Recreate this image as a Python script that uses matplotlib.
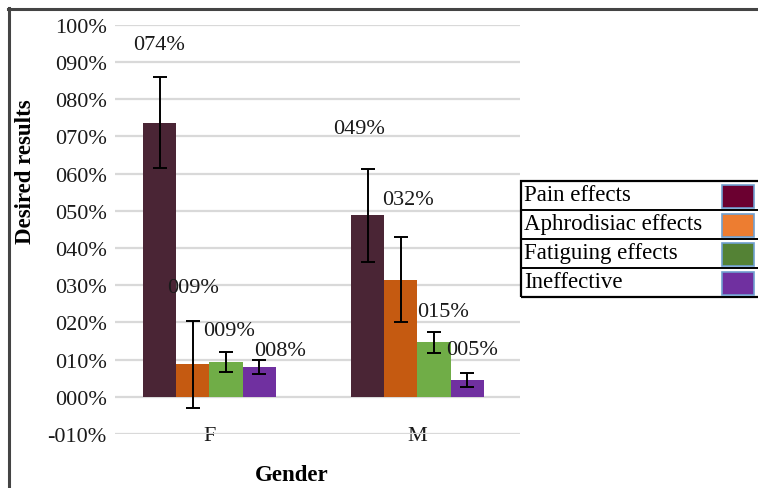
import matplotlib
matplotlib.use("Agg")
import matplotlib.pyplot as plt
from matplotlib.patches import Rectangle
from matplotlib.lines import Line2D
import numpy as np

# ---- data ----
categories = ["F", "M"]
series = ["Pain effects", "Aphrodisiac effects", "Fatiguing effects", "Ineffective"]
values = {
    "Pain effects":        [0.737, 0.488],
    "Aphrodisiac effects": [0.087, 0.315],
    "Fatiguing effects":   [0.093, 0.146],
    "Ineffective":         [0.081, 0.046],
}
errors = {
    "Pain effects":        [0.122, 0.125],
    "Aphrodisiac effects": [0.116, 0.115],
    "Fatiguing effects":   [0.027, 0.028],
    "Ineffective":         [0.019, 0.019],
}
yticks = [-0.1, 0.0, 0.1, 0.2, 0.3, 0.4, 0.5, 0.6, 0.7, 0.8, 0.9, 1.0]

# ---- style / layout ----
bar_colors = ["#4A2535", "#C55A11", "#70AD47", "#7030A0"]
legend_colors = ["#6B0030", "#ED7D31", "#548235", "#7030A0"]
# label placement (x offset in px, y in data units) -- layout only
label_dx = {"Pain effects": [0, -8], "Aphrodisiac effects": [0, 7],
            "Fatiguing effects": [3, 9], "Ineffective": [21, 5]}
label_y = {"Pain effects": [0.947, 0.720], "Aphrodisiac effects": [0.294, 0.530],
           "Fatiguing effects": [0.178, 0.230], "Ineffective": [0.125, 0.127]}

W, H = 758, 489
plt.rcParams["font.family"] = ["Liberation Serif", "DejaVu Serif"]
fig = plt.figure(figsize=(W / 100, H / 100), dpi=100)
ax = fig.add_axes([115 / W, 1 - 435 / H, (520 - 115) / W, (435 - 25.7) / H])

x = np.arange(len(categories))
bw = 0.16
n = len(series)
txt_color = "#1a1a1a"
fs = 16
for i, s in enumerate(series):
    xs = x + (i - (n - 1) / 2) * bw
    ax.bar(xs, values[s], width=bw, color=bar_colors[i], zorder=2)
    ax.errorbar(xs, values[s], yerr=errors[s], fmt="none", ecolor="black",
                elinewidth=1.4, capsize=5, capthick=1.4, zorder=3)
    for j, v in enumerate(values[s]):
        lbl = f"{int(round(v * 100)):03d}%"
        ax.annotate(lbl, (xs[j], label_y[s][j]), xytext=(label_dx[s][j], 0),
                    textcoords="offset pixels", ha="center", va="center",
                    fontsize=fs, color=txt_color, zorder=4)

ax.set_xlim(-0.454, 1.493)
ax.set_ylim(-0.1, 1.0)
ax.set_yticks(yticks)

def fmt(v):
    p = int(round(v * 100))
    return ("-" if p < 0 else "") + f"{abs(p):03d}%"

ax.set_yticklabels([fmt(v) for v in yticks], fontsize=fs, color=txt_color)
ax.set_xticks(x)
ax.set_xticklabels(categories, fontsize=fs, color=txt_color)
ax.tick_params(axis="both", length=0)
ax.tick_params(axis="y", pad=6)
ax.tick_params(axis="x", pad=-6)
ax.grid(axis="y", color="#d9d9d9", linewidth=1.6, zorder=0)
ax.set_axisbelow(True)
for sp in ax.spines.values():
    sp.set_visible(False)

# axis titles
fig.text(292 / W, 1 - 476 / H, "Gender", ha="center", va="center",
         fontsize=16.5, fontweight="bold", color="black")
fig.text(26 / W, 1 - 172 / H, "Desired results", ha="center", va="center",
         rotation=90, fontsize=16.5, fontweight="bold", color="black")

# outer frame (top and left)
fig.add_artist(Line2D([8.5 / W, 8.5 / W], [0, 1 - 9 / H], transform=fig.transFigure,
                      color="#444444", linewidth=2.2))
fig.add_artist(Line2D([8 / W, 1], [1 - 9.5 / H, 1 - 9.5 / H], transform=fig.transFigure,
                      color="#444444", linewidth=2.2))

# table-style legend
lx0, lx1 = 521, 762
row_top = 182.3
row_h = (297.7 - 182.3) / len(series)
fig.add_artist(Rectangle((lx0 / W, 1 - (row_top + row_h * n) / H),
                         (lx1 - lx0) / W, row_h * n / H, transform=fig.transFigure,
                         fill=False, edgecolor="black", linewidth=1.6))
for i, s in enumerate(series):
    top = row_top + i * row_h
    if i > 0:
        fig.add_artist(Line2D([lx0 / W, lx1 / W], [1 - top / H, 1 - top / H],
                              transform=fig.transFigure, color="black", linewidth=1.4))
    fig.text(524 / W, 1 - (top + row_h / 2 - 1) / H, s, ha="left", va="center",
             fontsize=16.5, color="black")
    fig.add_artist(Rectangle((722 / W, 1 - (top + row_h - 2) / H), 32 / W,
                             (row_h - 6) / H, transform=fig.transFigure,
                             facecolor=legend_colors[i], edgecolor="#6f9fd0",
                             linewidth=1.2))

fig.savefig("out.png", dpi=100)
